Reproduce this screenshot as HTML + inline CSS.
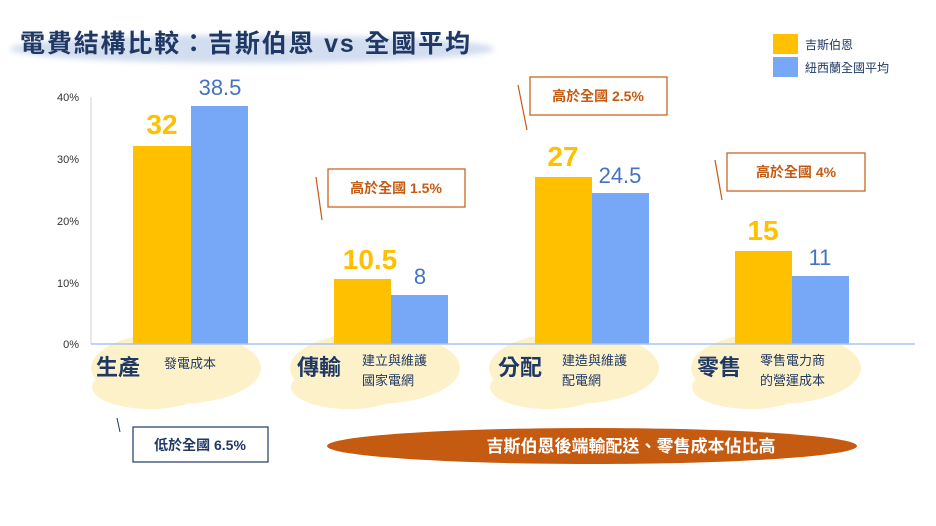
<!DOCTYPE html>
<html><head><meta charset="utf-8"><style>
html,body{margin:0;padding:0;background:#fff;width:936px;height:526px;overflow:hidden}
svg{display:block}
text{font-family:"Liberation Sans","Noto Sans CJK TC",sans-serif}
</style></head><body>
<svg width="936" height="526" viewBox="0 0 936 526" xmlns="http://www.w3.org/2000/svg">
<defs><filter id="b" x="-10%" y="-50%" width="120%" height="200%"><feGaussianBlur stdDeviation="3"/></filter></defs>
<ellipse cx="252" cy="49" rx="242" ry="14" fill="#d2ddef" filter="url(#b)"/>
<text x="20" y="52" font-size="25" font-weight="bold" fill="#1f3864" textLength="450" lengthAdjust="spacing">電費結構比較：吉斯伯恩 vs 全國平均</text>
<!-- legend -->
<rect x="773" y="34" width="25" height="20" fill="#ffc000"/>
<rect x="773" y="57" width="25" height="20" fill="#77a8f8"/>
<text x="805" y="49" font-size="12" fill="#1f3864">吉斯伯恩</text>
<text x="805" y="72" font-size="12" fill="#1f3864">紐西蘭全國平均</text>
<!-- blobs -->
<g fill="#fdf0c4" opacity="0.9">
<ellipse cx="176" cy="368" rx="85" ry="36"/><ellipse cx="150" cy="387" rx="58" ry="22"/>
<ellipse cx="375" cy="368" rx="85" ry="36"/><ellipse cx="349" cy="387" rx="58" ry="22"/>
<ellipse cx="574" cy="368" rx="85" ry="36"/><ellipse cx="548" cy="387" rx="58" ry="22"/>
<ellipse cx="776" cy="368" rx="85" ry="36"/><ellipse cx="750" cy="387" rx="58" ry="22"/>
</g>
<!-- axis -->
<line x1="91" y1="97" x2="91" y2="344" stroke="#d0d0d0"/>
<g font-size="11" fill="#333" text-anchor="end">
<text x="79" y="101">40%</text><text x="79" y="163">30%</text><text x="79" y="225">20%</text><text x="79" y="287">10%</text><text x="79" y="348">0%</text>
</g>
<!-- bars -->
<g fill="#ffc000">
<rect x="133" y="146" width="58" height="198"/>
<rect x="334" y="279" width="57" height="65"/>
<rect x="535" y="177" width="57" height="167"/>
<rect x="735" y="251" width="57" height="93"/>
</g>
<g fill="#77a8f8">
<rect x="191" y="106" width="57" height="238"/>
<rect x="391" y="295" width="57" height="49"/>
<rect x="592" y="193" width="57" height="151"/>
<rect x="792" y="276" width="57" height="68"/>
</g>
<line x1="91" y1="344" x2="915" y2="344" stroke="#a9c4f0" stroke-width="1.5"/>
<!-- value labels -->
<g font-size="28" font-weight="bold" fill="#ffc000" text-anchor="middle">
<text x="162" y="134">32</text><text x="370" y="269">10.5</text><text x="563" y="166">27</text><text x="763" y="240">15</text>
</g>
<g font-size="22" fill="#4472c4" text-anchor="middle">
<text x="220" y="95">38.5</text><text x="420" y="284">8</text><text x="620" y="183">24.5</text><text x="820" y="265">11</text>
</g>
<!-- category labels -->
<g font-size="22" font-weight="bold" fill="#1f3864">
<text x="96" y="375">生產</text><text x="297" y="375">傳輸</text><text x="498" y="375">分配</text><text x="697" y="375">零售</text>
</g>
<g font-size="13" fill="#1f3864">
<text x="164" y="368">發電成本</text>
<text x="362" y="365">建立與維護</text><text x="362" y="385">國家電網</text>
<text x="562" y="365">建造與維護</text><text x="562" y="385">配電網</text>
<text x="760" y="365">零售電力商</text><text x="760" y="385">的營運成本</text>
</g>
<!-- callouts -->
<g stroke="#c55a11" fill="#fff" stroke-width="1.2">
<rect x="328" y="169" width="137" height="38"/>
<rect x="530" y="77" width="137" height="38"/>
<rect x="727" y="153" width="138" height="38"/>
<line x1="316" y1="177" x2="322" y2="220"/>
<line x1="518" y1="85" x2="527" y2="130"/>
<line x1="715" y1="160" x2="722" y2="200"/>
</g>
<g font-size="14" font-weight="bold" fill="#c55a11" text-anchor="middle">
<text x="396" y="193">高於全國 1.5%</text>
<text x="598" y="101">高於全國 2.5%</text>
<text x="796" y="177">高於全國 4%</text>
</g>
<rect x="133" y="427" width="135" height="35" fill="#fff" stroke="#1f3864" stroke-width="1.2"/>
<line x1="117" y1="418" x2="120" y2="432" stroke="#1f3864"/>
<text x="200" y="450" font-size="14" font-weight="bold" fill="#1f3864" text-anchor="middle">低於全國 6.5%</text>
<ellipse cx="592" cy="446" rx="265" ry="18" fill="#c55a11"/>
<text x="631" y="452" font-size="17" font-weight="bold" fill="#fff" text-anchor="middle">吉斯伯恩後端輸配送、零售成本佔比高</text>
</svg>
</body></html>
